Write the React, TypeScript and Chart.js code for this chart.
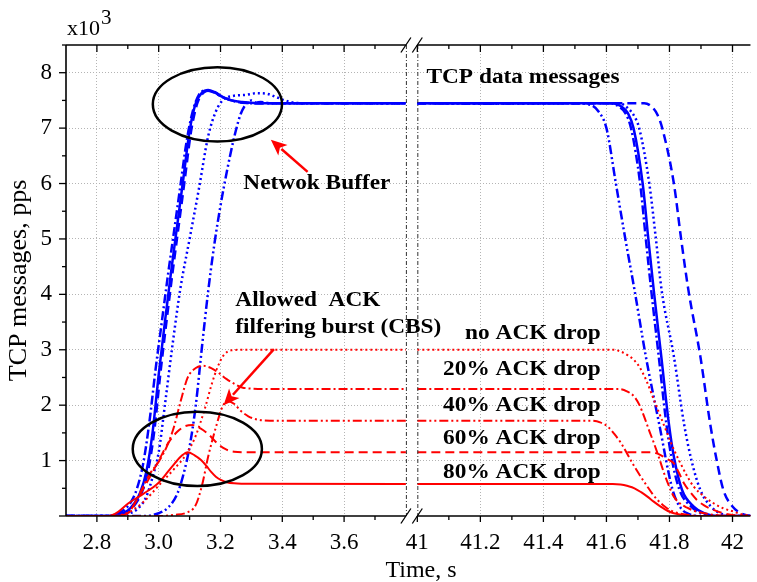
import React, { useEffect, useRef } from "react";
import { Chart, registerables } from "chart.js";

Chart.register(...registerables);

type Pt = [number, number];

// ---- broken time axis ----
const LEFT_MIN = 2.7;
const LEFT_MAX = 3.8;
const RIGHT_MIN = 41.0;
const RIGHT_MAX = 42.057;
const GAP = 0.037;
const RIGHT_STRETCH = 1.02;
const RIGHT_OFFSET = LEFT_MAX - LEFT_MIN + GAP;
const U_MAX = RIGHT_OFFSET + (RIGHT_MAX - RIGHT_MIN) * RIGHT_STRETCH;
const toU = (t: number) => (t < 20 ? t - LEFT_MIN : RIGHT_OFFSET + (t - RIGHT_MIN) * RIGHT_STRETCH);

const xTickValues = [2.8, 3.0, 3.2, 3.4, 3.6, 41, 41.2, 41.4, 41.6, 41.8, 42];
const xTickLabels = ["2.8", "3.0", "3.2", "3.4", "3.6", "41", "41.2", "41.4", "41.6", "41.8", "42"];
const xMinorValues = [2.9, 3.1, 3.3, 3.5, 3.7, 41.1, 41.3, 41.5, 41.7, 41.9];
const yTickValues = [0, 1, 2, 3, 4, 5, 6, 7, 8];
const yTickLabels = ["", "1", "2", "3", "4", "5", "6", "7", "8"];
const yMinorValues = [0.5, 1.5, 2.5, 3.5, 4.5, 5.5, 6.5, 7.5, 8.5];
const Y_MAX = 8.5;

// ---- TCP data messages (blue), [time s, x10^3 pps] ----
const dataNoDropLeft: Pt[] = [[2.7, 0], [2.86, 0], [2.9, 0.04], [2.93, 0.12], [2.96, 0.35], [2.98, 0.7], [3.0, 1.15], [3.02, 2.0], [3.045, 3.1], [3.07, 4.1], [3.1, 5.0], [3.13, 5.9], [3.16, 6.85], [3.185, 7.3], [3.21, 7.52], [3.24, 7.58], [3.28, 7.6], [3.32, 7.63], [3.35, 7.62], [3.38, 7.56], [3.42, 7.48], [3.46, 7.45], [3.6, 7.45], [3.8, 7.45]];
const dataNoDropRight: Pt[] = [[41.0, 7.45], [41.3, 7.44], [41.64, 7.45], [41.67, 7.35], [41.69, 7.2], [41.704, 7.0], [41.736, 6.0], [41.757, 5.0], [41.775, 4.08], [41.814, 2.88], [41.846, 1.67], [41.87, 1.0], [41.898, 0.47], [41.93, 0.18], [41.96, 0.05], [42.0, 0], [42.057, 0]];

const data20Left: Pt[] = [[2.7, 0], [2.83, 0], [2.86, 0.03], [2.89, 0.12], [2.91, 0.25], [2.93, 0.5], [2.95, 0.95], [2.97, 1.7], [2.99, 2.65], [3.01, 3.5], [3.03, 4.35], [3.05, 5.15], [3.07, 5.95], [3.09, 6.75], [3.11, 7.3], [3.13, 7.6], [3.155, 7.68], [3.18, 7.64], [3.21, 7.55], [3.25, 7.48], [3.3, 7.45], [3.6, 7.45], [3.8, 7.45]];
const data20Right: Pt[] = [[41.0, 7.45], [41.3, 7.45], [41.61, 7.45], [41.637, 7.4], [41.66, 7.27], [41.678, 7.0], [41.707, 6.0], [41.725, 5.0], [41.742, 4.08], [41.766, 2.88], [41.79, 1.67], [41.806, 1.07], [41.832, 0.47], [41.869, 0.17], [41.9, 0.05], [41.94, 0], [42.057, 0]];

const data40Left: Pt[] = [[2.7, 0], [2.95, 0], [3.0, 0.05], [3.03, 0.15], [3.06, 0.4], [3.08, 0.75], [3.1, 1.25], [3.12, 2.0], [3.14, 3.05], [3.16, 4.05], [3.18, 4.9], [3.2, 5.6], [3.22, 6.2], [3.245, 6.85], [3.265, 7.25], [3.285, 7.45], [3.3, 7.5], [3.315, 7.46], [3.33, 7.47], [3.36, 7.45], [3.6, 7.45], [3.8, 7.45]];
const data40Right: Pt[] = [[41.0, 7.45], [41.2, 7.44], [41.4, 7.45], [41.5, 7.45], [41.55, 7.42], [41.575, 7.3], [41.6, 7.0], [41.63, 6.0], [41.66, 5.0], [41.69, 4.05], [41.725, 2.88], [41.767, 1.67], [41.81, 0.47], [41.835, 0.15], [41.86, 0.04], [41.9, 0], [42.057, 0]];

const data60Left: Pt[] = [[2.7, 0], [2.845, 0], [2.875, 0.03], [2.905, 0.1], [2.925, 0.22], [2.945, 0.42], [2.965, 0.8], [2.985, 1.5], [3.005, 2.55], [3.025, 3.5], [3.045, 4.4], [3.065, 5.25], [3.085, 6.1], [3.105, 6.95], [3.125, 7.45], [3.145, 7.64], [3.165, 7.68], [3.185, 7.64], [3.205, 7.57], [3.235, 7.5], [3.275, 7.46], [3.32, 7.45], [3.6, 7.45], [3.8, 7.45]];
const data60Right: Pt[] = [[41.0, 7.45], [41.3, 7.45], [41.72, 7.45], [41.745, 7.38], [41.762, 7.24], [41.777, 7.0], [41.814, 6.0], [41.837, 5.0], [41.86, 4.08], [41.898, 2.88], [41.929, 1.67], [41.95, 1.0], [41.971, 0.47], [42.0, 0.17], [42.03, 0.04], [42.057, 0]];

const data80Left: Pt[] = [[2.7, 0], [2.84, 0], [2.87, 0.03], [2.9, 0.1], [2.92, 0.22], [2.94, 0.42], [2.96, 0.8], [2.98, 1.5], [3.0, 2.55], [3.02, 3.5], [3.04, 4.4], [3.06, 5.25], [3.08, 6.1], [3.1, 6.95], [3.12, 7.45], [3.14, 7.64], [3.16, 7.69], [3.18, 7.65], [3.2, 7.58], [3.23, 7.51], [3.27, 7.47], [3.32, 7.45], [3.6, 7.45], [3.8, 7.45]];
const data80Right: Pt[] = [[41.0, 7.45], [41.3, 7.45], [41.62, 7.45], [41.645, 7.4], [41.668, 7.27], [41.686, 7.0], [41.715, 6.0], [41.733, 5.0], [41.75, 4.08], [41.774, 2.88], [41.798, 1.67], [41.814, 1.07], [41.84, 0.47], [41.877, 0.17], [41.91, 0.05], [41.95, 0], [42.057, 0]];

// ---- ACK messages (red) ----
const ackNoDropLeft: Pt[] = [[2.7, 0], [2.85, 0], [2.9, 0.06], [2.95, 0.25], [3.0, 0.55], [3.05, 0.85], [3.09, 1.12], [3.12, 1.45], [3.15, 1.95], [3.17, 2.35], [3.19, 2.68], [3.21, 2.9], [3.235, 2.99], [3.27, 3.0], [3.5, 3.0], [3.8, 3.0]];
const ackNoDropRight: Pt[] = [[41.0, 3.0], [41.62, 3.0], [41.645, 2.97], [41.668, 2.9], [41.69, 2.8], [41.71, 2.64], [41.73, 2.4], [41.751, 2.09], [41.772, 1.79], [41.793, 1.49], [41.814, 1.2], [41.835, 0.95], [41.856, 0.72], [41.877, 0.53], [41.91, 0.35], [41.94, 0.23], [41.97, 0.14], [42.003, 0.08], [42.03, 0.03], [42.057, 0.01]];

const ack20Left: Pt[] = [[2.7, 0], [2.86, 0], [2.9, 0.05], [2.94, 0.42], [2.97, 0.75], [3.0, 0.98], [3.03, 1.3], [3.05, 1.62], [3.07, 2.05], [3.094, 2.5], [3.12, 2.67], [3.143, 2.71], [3.17, 2.67], [3.19, 2.6], [3.22, 2.47], [3.25, 2.37], [3.27, 2.32], [3.3, 2.3], [3.4, 2.29], [3.8, 2.29]];
const ack20Right: Pt[] = [[41.0, 2.29], [41.64, 2.29], [41.665, 2.25], [41.689, 2.15], [41.705, 2.0], [41.72, 1.79], [41.735, 1.55], [41.751, 1.31], [41.767, 1.05], [41.783, 0.77], [41.8, 0.52], [41.814, 0.35], [41.835, 0.22], [41.856, 0.15], [41.88, 0.09], [41.92, 0.04], [41.96, 0.01], [42.057, 0]];

const ack40Left: Pt[] = [[2.7, 0], [3.0, 0], [3.05, 0.02], [3.09, 0.06], [3.12, 0.2], [3.14, 0.55], [3.16, 1.07], [3.185, 1.6], [3.207, 1.98], [3.225, 2.07], [3.245, 2.02], [3.265, 1.9], [3.29, 1.8], [3.32, 1.74], [3.36, 1.72], [3.8, 1.72]];
const ack40Right: Pt[] = [[41.0, 1.72], [41.55, 1.72], [41.58, 1.69], [41.605, 1.61], [41.625, 1.48], [41.647, 1.31], [41.668, 1.1], [41.689, 0.89], [41.71, 0.7], [41.73, 0.53], [41.746, 0.4], [41.762, 0.29], [41.785, 0.17], [41.804, 0.1], [41.83, 0.05], [41.86, 0.02], [41.9, 0], [42.057, 0]];

const ack60Left: Pt[] = [[2.7, 0], [2.86, 0], [2.9, 0.05], [2.93, 0.3], [2.966, 0.65], [3.0, 1.0], [3.03, 1.31], [3.06, 1.52], [3.085, 1.62], [3.11, 1.64], [3.135, 1.58], [3.16, 1.48], [3.19, 1.31], [3.215, 1.21], [3.244, 1.16], [3.3, 1.15], [3.8, 1.15]];
const ack60Right: Pt[] = [[41.0, 1.15], [41.745, 1.15], [41.76, 1.13], [41.772, 1.1], [41.792, 1.03], [41.814, 0.95], [41.83, 0.78], [41.846, 0.59], [41.866, 0.43], [41.887, 0.29], [41.91, 0.19], [41.94, 0.11], [41.97, 0.05], [42.0, 0.02], [42.057, 0]];

const ack80Left: Pt[] = [[2.7, 0], [2.838, 0], [2.87, 0.08], [2.902, 0.23], [2.95, 0.4], [2.998, 0.59], [3.03, 0.8], [3.052, 0.95], [3.075, 1.09], [3.094, 1.15], [3.115, 1.1], [3.137, 1.01], [3.155, 0.9], [3.169, 0.8], [3.185, 0.71], [3.201, 0.65], [3.22, 0.61], [3.244, 0.59], [3.3, 0.58], [3.8, 0.578]];
const ack80Right: Pt[] = [[41.0, 0.578], [41.62, 0.578], [41.645, 0.57], [41.668, 0.54], [41.689, 0.5], [41.71, 0.43], [41.73, 0.35], [41.75, 0.26], [41.772, 0.17], [41.795, 0.09], [41.814, 0.05], [41.84, 0.02], [41.87, 0], [42.057, 0]];

// ---- annotation texts and anchors (data units) ----
const dropLabels = ["no ACK drop", "20% ACK drop", "40% ACK drop", "60% ACK drop", "80% ACK drop"];
const dropLabelY = [3.3, 2.64, 2.0, 1.41, 0.79];
const dropLabelRightT = 41.582;

const SERIF = "'Liberation Serif', 'Times New Roman', Times, serif";
const BLUE = "#0000ff";
const RED = "#ff0000";
const DASH = {
  solid: [] as number[],
  dashDot: [9, 3, 2, 3],
  dotted: [2, 3],
  dashDotDot: [9, 3, 2, 3, 2, 3],
  dashed: [9, 5],
};

const toXY = (left: Pt[], right: Pt[]) => [
  ...left.map(([t, v]) => ({ x: toU(t), y: v as number | null })),
  { x: toU(LEFT_MAX) + GAP / 2, y: null },
  ...right.map(([t, v]) => ({ x: toU(t), y: v as number | null })),
];

const mkSet = (label: string, left: Pt[], right: Pt[], color: string, dash: number[], width: number) => ({
  label,
  data: toXY(left, right),
  borderColor: color,
  backgroundColor: color,
  borderWidth: width,
  borderDash: dash,
  pointRadius: 0,
  fill: false,
  spanGaps: false,
  cubicInterpolationMode: "monotone" as const,
});

const notesPlugin = {
  id: "notes",
  afterDatasetsDraw(chart: any) {
    const { ctx, chartArea: a } = chart;
    const xs = chart.scales.x;
    const ys = chart.scales.y;
    const X = (t: number) => xs.getPixelForValue(toU(t));
    const Y = (v: number) => ys.getPixelForValue(v);
    const b1 = X(LEFT_MAX);
    const b2 = X(RIGHT_MIN);
    const line = (x1: number, y1: number, x2: number, y2: number) => {
      ctx.beginPath();
      ctx.moveTo(x1, y1);
      ctx.lineTo(x2, y2);
      ctx.stroke();
    };
    ctx.save();

    // break lines
    ctx.strokeStyle = "#333";
    ctx.lineWidth = 1;
    ctx.setLineDash([4, 2, 1, 2]);
    [b1, b2].forEach((bx) => line(bx + 0.5, a.top, bx + 0.5, a.bottom));
    ctx.setLineDash([]);

    // axis lines
    ctx.strokeStyle = "#000";
    ctx.lineWidth = 1.6;
    line(a.left, a.bottom, b1, a.bottom);
    line(b2, a.bottom, a.right, a.bottom);
    line(a.left, a.top, b1, a.top);
    line(b2, a.top, a.right, a.top);
    line(a.left, a.top, a.left, a.bottom);

    // break slashes
    ctx.lineWidth = 1.3;
    [b1, b2].forEach((bx) => {
      [a.top, a.bottom].forEach((ay) => line(bx - 5, ay + 7.5, bx + 5, ay - 7.5));
    });

    // tick marks
    ctx.lineWidth = 1.3;
    xTickValues.forEach((t) => {
      const px = X(t);
      line(px, a.bottom, px, a.bottom + 6);
      line(px, a.top, px, a.top + 7);
    });
    xMinorValues.forEach((t) => {
      const px = X(t);
      line(px, a.bottom, px, a.bottom + 4);
      line(px, a.top, px, a.top + 4);
    });
    yTickValues.forEach((v) => {
      const py = Y(v);
      line(a.left - 7, py, a.left, py);
    });
    yMinorValues.forEach((v) => {
      const py = Y(v);
      line(a.left - 4, py, a.left, py);
    });

    // ellipses
    ctx.strokeStyle = "#000";
    ctx.lineWidth = 2.5;
    const ellipse = (t: number, v: number, rt: number, rv: number) => {
      const cx = X(t);
      const cy = Y(v);
      const rx = Math.abs(X(t + rt) - cx);
      const ry = Math.abs(Y(v + rv) - cy);
      ctx.beginPath();
      ctx.ellipse(cx, cy, rx, ry, 0, 0, Math.PI * 2);
      ctx.stroke();
    };
    ellipse(3.19, 7.43, 0.209, 0.67);
    ellipse(3.125, 1.21, 0.209, 0.67);

    // arrows
    const arrow = (t1: number, v1: number, t2: number, v2: number) => {
      const x1 = X(t1), y1 = Y(v1), x2 = X(t2), y2 = Y(v2);
      const ang = Math.atan2(y2 - y1, x2 - x1);
      const hl = 16, hw = 7;
      const bx = x2 - hl * Math.cos(ang);
      const by = y2 - hl * Math.sin(ang);
      ctx.strokeStyle = RED;
      ctx.fillStyle = RED;
      ctx.lineWidth = 2.5;
      line(x1, y1, bx + 2 * Math.cos(ang), by + 2 * Math.sin(ang));
      ctx.beginPath();
      ctx.moveTo(x2, y2);
      ctx.lineTo(bx + hw * Math.sin(ang), by - hw * Math.cos(ang));
      ctx.lineTo(bx + 4 * Math.cos(ang), by + 4 * Math.sin(ang));
      ctx.lineTo(bx - hw * Math.sin(ang), by + hw * Math.cos(ang));
      ctx.closePath();
      ctx.fill();
    };
    arrow(3.482, 6.21, 3.363, 6.79);
    arrow(3.373, 3.01, 3.21, 2.0);

    // bold notes
    const note = (text: string, px: number, py: number, align: "left" | "right") => {
      ctx.save();
      ctx.font = `bold 22px ${SERIF}`;
      ctx.fillStyle = "#000";
      ctx.textBaseline = "middle";
      ctx.textAlign = align;
      ctx.translate(px, py);
      ctx.scale(1.06, 1);
      ctx.fillText(text, 0, 0);
      ctx.restore();
    };
    note("TCP data messages", X(41.029), Y(7.92), "left");
    note("Netwok Buffer", X(3.274), Y(6.01), "left");
    note("Allowed  ACK", X(3.248), Y(3.9), "left");
    note("filfering burst (CBS)", X(3.248), Y(3.41), "left");
    dropLabels.forEach((s, i) => note(s, X(dropLabelRightT), Y(dropLabelY[i]), "right"));

    // multiplier and x-axis title
    ctx.fillStyle = "#000";
    ctx.textBaseline = "alphabetic";
    ctx.textAlign = "left";
    ctx.font = `22px ${SERIF}`;
    ctx.fillText("x10", a.left + 1, 35);
    const w = ctx.measureText("x10").width;
    ctx.font = `21px ${SERIF}`;
    ctx.fillText("3", a.left + 2 + w, 24);
    ctx.font = `24px ${SERIF}`;
    ctx.textAlign = "center";
    ctx.fillText("Time, s", 421, 577);
    ctx.restore();
  },
};

export default function App() {
  const ref = useRef<HTMLCanvasElement | null>(null);
  useEffect(() => {
    if (!ref.current) return;
    const datasets = [
      mkSet("ACK 80%", ack80Left, ack80Right, RED, DASH.solid, 2),
      mkSet("ACK 60%", ack60Left, ack60Right, RED, DASH.dashed, 2),
      mkSet("ACK 40%", ack40Left, ack40Right, RED, DASH.dashDotDot, 2),
      mkSet("ACK 20%", ack20Left, ack20Right, RED, DASH.dashDot, 2),
      mkSet("ACK no drop", ackNoDropLeft, ackNoDropRight, RED, DASH.dotted, 2),
      mkSet("Data 80%", data80Left, data80Right, BLUE, DASH.solid, 2.5),
      mkSet("Data 60%", data60Left, data60Right, BLUE, DASH.dashed, 2.5),
      mkSet("Data 40%", data40Left, data40Right, BLUE, DASH.dashDotDot, 2.5),
      mkSet("Data 20%", data20Left, data20Right, BLUE, DASH.dashDot, 2.5),
      mkSet("Data no drop", dataNoDropLeft, dataNoDropRight, BLUE, DASH.dotted, 2.5),
    ];
    const chart = new Chart(ref.current, {
      type: "line",
      data: { datasets } as any,
      options: {
        responsive: false,
        animation: false,
        devicePixelRatio: 1,
        events: [],
        layout: { padding: { top: 45, right: 0, left: 0, bottom: 0 } },
        plugins: { legend: { display: false }, tooltip: { enabled: false } },
        scales: {
          x: {
            type: "linear",
            min: 0,
            max: U_MAX,
            offset: false,
            afterFit: (s: any) => {
              s.height = 66;
            },
            afterBuildTicks: (s: any) => {
              s.ticks = xTickValues.map((t) => ({ value: toU(t) }));
            },
            ticks: {
              autoSkip: false,
              maxRotation: 0,
              padding: 13,
              color: "#000",
              font: { family: SERIF, size: 23 },
              callback: (_v: any, i: number) => xTickLabels[i],
            },
            grid: {
              drawTicks: false,
              lineWidth: 1,
              color: (c: any) => (c.index === 5 ? "rgba(0,0,0,0)" : "#b4b4b4"),
            },
            border: { display: false, dash: [1, 2] },
          },
          y: {
            type: "linear",
            min: 0,
            max: Y_MAX,
            afterFit: (s: any) => {
              s.width = 66;
            },
            afterBuildTicks: (s: any) => {
              s.ticks = yTickValues.map((v) => ({ value: v }));
            },
            ticks: {
              padding: 14,
              color: "#000",
              font: { family: SERIF, size: 23 },
              callback: (_v: any, i: number) => yTickLabels[i],
            },
            grid: {
              drawTicks: false,
              lineWidth: 1,
              color: (c: any) => (c.index === 0 ? "rgba(0,0,0,0)" : "#b4b4b4"),
            },
            border: { display: false, dash: [1, 2] },
            title: {
              display: true,
              text: "TCP messages, pps",
              color: "#000",
              font: { family: SERIF, size: 26 },
              padding: { top: 4, bottom: 0 },
            },
          },
        },
      } as any,
      plugins: [notesPlugin],
    });
    return () => chart.destroy();
  }, []);
  return (
    <div style={{ position: "fixed", left: 0, top: 0, width: 757, height: 582, background: "#fff" }}>
      <canvas ref={ref} width={757} height={582} style={{ display: "block", width: 757, height: 582 }} />
    </div>
  );
}
